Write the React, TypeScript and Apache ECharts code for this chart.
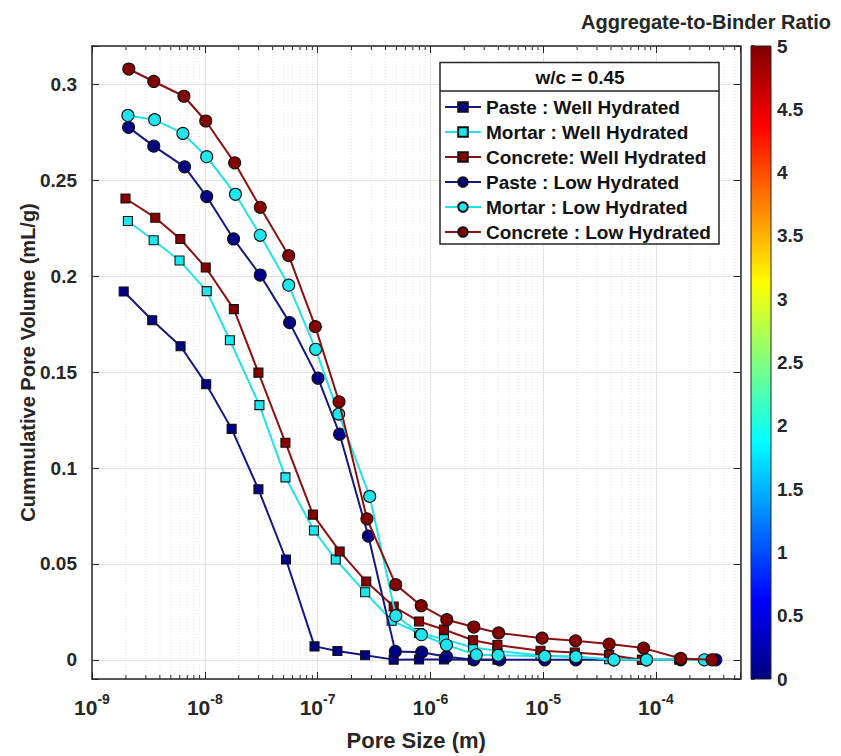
import React, { useEffect, useRef } from 'react';
import * as echarts from 'echarts';

// ---------- data ----------
const seriesNames = [
  'Paste : Well Hydrated',
  'Mortar : Well Hydrated',
  'Concrete: Well Hydrated',
  'Paste : Low Hydrated',
  'Mortar : Low Hydrated',
  'Concrete : Low Hydrated',
];

// pore size (m) / cumulative pore volume (mL/g)
const pasteWellPore = [1.91e-9, 3.42e-9, 6.10e-9, 1.03e-8, 1.73e-8, 2.99e-8, 5.25e-8, 9.40e-8, 1.50e-7, 2.64e-7, 4.73e-7, 7.94e-7, 1.32e-6, 2.39e-6, 3.93e-6];
const pasteWellVol = [0.192, 0.177, 0.1635, 0.1437, 0.1204, 0.0889, 0.0523, 0.0070, 0.0046, 0.0024, 0.0001, 0.0002, 0.0002, 0.0001, 0.0001];

const mortarWellPore = [2.08e-9, 3.52e-9, 5.97e-9, 1.04e-8, 1.67e-8, 3.05e-8, 5.19e-8, 9.29e-8, 1.45e-7, 2.64e-7, 4.54e-7, 7.94e-7, 1.32e-6, 2.39e-6, 3.93e-6, 9.48e-6, 1.91e-5, 3.85e-5, 7.52e-5];
const mortarWellVol = [0.2288, 0.2187, 0.2082, 0.1922, 0.1666, 0.1328, 0.0951, 0.0674, 0.0523, 0.0352, 0.0204, 0.0140, 0.0108, 0.0064, 0.0047, 0.0022, 0.0016, 0.0003, 0.0];

const concreteWellPore = [1.98e-9, 3.64e-9, 6.07e-9, 1.02e-8, 1.81e-8, 2.99e-8, 5.19e-8, 9.10e-8, 1.57e-7, 2.70e-7, 4.73e-7, 7.94e-7, 1.32e-6, 2.39e-6, 3.93e-6, 9.48e-6, 1.91e-5, 3.85e-5, 7.52e-5, 1.61e-4];
const concreteWellVol = [0.2405, 0.2305, 0.2194, 0.2045, 0.1828, 0.1497, 0.1132, 0.0757, 0.0565, 0.0408, 0.0278, 0.0200, 0.0158, 0.0102, 0.0077, 0.0047, 0.0038, 0.0025, 0.0, 0.0];

const pasteLowPore = [2.11e-9, 3.53e-9, 6.62e-9, 1.04e-8, 1.80e-8, 3.10e-8, 5.65e-8, 1.01e-7, 1.57e-7, 2.82e-7, 4.89e-7, 8.39e-7, 1.39e-6, 2.43e-6, 4.13e-6, 1.035e-5, 1.95e-5, 4.24e-5, 8.26e-5, 1.66e-4, 3.4e-4];
const pasteLowVol = [0.2776, 0.2678, 0.2570, 0.2415, 0.2194, 0.2006, 0.1758, 0.1468, 0.1176, 0.0645, 0.0044, 0.0040, 0.0016, 0.0, 0.0, 0.0, 0.0, 0.0, 0.0, 0.0, 0.0];

const mortarLowPore = [2.08e-9, 3.59e-9, 6.40e-9, 1.04e-8, 1.87e-8, 3.10e-8, 5.55e-8, 9.62e-8, 1.54e-7, 2.90e-7, 4.94e-7, 8.34e-7, 1.39e-6, 2.56e-6, 3.99e-6, 1.035e-5, 1.95e-5, 4.24e-5, 8.26e-5, 2.69e-4];
const mortarLowVol = [0.2838, 0.2816, 0.2744, 0.2623, 0.2427, 0.2213, 0.1953, 0.1619, 0.1281, 0.0852, 0.0230, 0.0131, 0.0077, 0.0026, 0.0024, 0.0018, 0.0016, 0.0, 0.0, 0.0];

const concreteLowPore = [2.12e-9, 3.53e-9, 6.53e-9, 1.02e-8, 1.84e-8, 3.10e-8, 5.55e-8, 9.55e-8, 1.55e-7, 2.74e-7, 4.93e-7, 8.30e-7, 1.40e-6, 2.43e-6, 4.03e-6, 9.8e-6, 1.94e-5, 3.85e-5, 7.78e-5, 1.66e-4, 3.14e-4];
const concreteLowVol = [0.308, 0.3015, 0.2938, 0.2809, 0.2591, 0.2359, 0.2107, 0.1737, 0.1345, 0.0735, 0.0392, 0.0282, 0.0209, 0.0171, 0.0140, 0.0113, 0.0099, 0.0082, 0.0061, 0.0007, 0.0];

const poreArrays = [pasteWellPore, mortarWellPore, concreteWellPore, pasteLowPore, mortarLowPore, concreteLowPore];
const volArrays = [pasteWellVol, mortarWellVol, concreteWellVol, pasteLowVol, mortarLowVol, concreteLowVol];

// axis ranges
const X_MIN_EXP = -9;
const X_MAX_EXP = -3.25;
const Y_MIN = -0.01;
const Y_MAX = 0.32;
const Y_STEP = 0.05;
const CB_MIN = 0;
const CB_MAX = 5;
const CB_STEP = 0.5;

// ---------- styles ----------
const FONT = "'Liberation Sans', Arial, Helvetica, sans-serif";
const AX = '#262626';
const lineColors = ['#16167f', '#22e2e6', '#8c1010', '#16167f', '#22e2e6', '#8c1010'];
const fillColors = ['#000085', '#1ee6ef', '#850000', '#000085', '#1ee6ef', '#850000'];
const symbols = ['rect', 'rect', 'rect', 'circle', 'circle', 'circle'];
const symbolSizes = [9, 9, 9, 12, 12, 12];
const jetStops = [
  [0, '#000080'],
  [0.125, '#0000ff'],
  [0.375, '#00ffff'],
  [0.625, '#ffff00'],
  [0.875, '#ff0000'],
  [1, '#800000'],
];

function minorExponents(): number[] {
  const out: number[] = [];
  for (let n = Math.ceil(X_MIN_EXP); n < X_MAX_EXP; n++) {
    for (let k = 2; k <= 9; k++) {
      const e = n + Math.log10(k);
      if (e < X_MAX_EXP) out.push(e);
    }
  }
  return out;
}

export default function App() {
  const ref = useRef<HTMLDivElement>(null);
  useEffect(() => {
    if (!ref.current) return;
    const chart = echarts.init(ref.current, undefined, { renderer: 'svg' });

    const lineSeries = seriesNames.map((name, i) => ({
      type: 'line',
      name,
      xAxisIndex: 0,
      yAxisIndex: 0,
      data: poreArrays[i].map((p, j) => [Math.log10(p), volArrays[i][j]]),
      symbol: symbols[i],
      symbolSize: symbolSizes[i],
      showSymbol: true,
      lineStyle: { color: lineColors[i], width: 2 },
      itemStyle: { color: fillColors[i], borderColor: '#111', borderWidth: 1.1 },
      z: 3 + i,
    }));

    const minorSeries = {
      type: 'custom',
      xAxisIndex: 0,
      yAxisIndex: 0,
      silent: true,
      z: 1,
      data: minorExponents().map((e) => [e, 0]),
      renderItem: (params: any, api: any) => {
        const x = api.coord([api.value(0), 0])[0];
        const cs = params.coordSys;
        const top = cs.y;
        const bottom = cs.y + cs.height;
        return {
          type: 'group',
          children: [
            { type: 'line', shape: { x1: x, y1: top, x2: x, y2: bottom }, style: { stroke: '#e2e2e2', lineWidth: 1, lineDash: [1, 2] } },
            { type: 'line', shape: { x1: x, y1: bottom, x2: x, y2: bottom - 4 }, style: { stroke: AX, lineWidth: 1 } },
            { type: 'line', shape: { x1: x, y1: top, x2: x, y2: top + 4 }, style: { stroke: AX, lineWidth: 1 } },
          ],
        };
      },
    };

    const colorbarSeries = {
      type: 'custom',
      xAxisIndex: 2,
      yAxisIndex: 2,
      silent: true,
      data: [[0, 0]],
      renderItem: (_params: any, api: any) => {
        const p0 = api.coord([0, CB_MAX]);
        const p1 = api.coord([1, CB_MIN]);
        return {
          type: 'rect',
          shape: { x: p0[0], y: p0[1], width: p1[0] - p0[0], height: p1[1] - p0[1] },
          style: {
            fill: new echarts.graphic.LinearGradient(0, 1, 0, 0, jetStops.map(([o, c]) => ({ offset: o as number, color: c as string }))),
            stroke: AX,
            lineWidth: 1,
          },
        };
      },
    };

    const isMultiple = (v: number, step: number) => Math.abs(v / step - Math.round(v / step)) < 1e-6;

    const option: any = {
      animation: false,
      backgroundColor: '#ffffff',
      textStyle: { fontFamily: FONT },
      title: {
        text: 'Aggregate-to-Binder Ratio',
        right: 5,
        top: 7,
        textStyle: { fontFamily: FONT, fontWeight: 'bold', fontSize: 20, color: AX },
      },
      grid: [
        { left: 92, right: 100.5, top: 46, bottom: 77 },
        { left: 751, right: 70, top: 46, bottom: 77 },
      ],
      xAxis: [
        {
          type: 'value',
          gridIndex: 0,
          min: X_MIN_EXP,
          max: X_MAX_EXP,
          interval: 1,
          name: 'Pore Size (m)',
          nameLocation: 'middle',
          nameGap: 50,
          nameMoveOverlap: false,
          nameTextStyle: { fontFamily: FONT, fontWeight: 'bold', fontSize: 22, color: AX },
          axisLine: { show: true, onZero: false, lineStyle: { color: AX, width: 1.5 } },
          axisTick: { show: true, inside: true, length: 7, lineStyle: { color: AX, width: 1 } },
          axisLabel: {
            margin: 13,
            formatter: (v: number) => (isMultiple(v, 1) ? `{b|10}{s|${Math.round(v)}}` : ''),
            rich: {
              b: { fontFamily: FONT, fontWeight: 'bold', fontSize: 21, lineHeight: 20, padding: [10, 0, 0, 0], color: AX },
              s: { fontFamily: FONT, fontWeight: 'bold', fontSize: 14, lineHeight: 12, verticalAlign: 'top', color: AX },
            },
          },
          splitLine: { show: true, lineStyle: { color: '#e4e4e4', width: 1 } },
        },
        {
          type: 'value',
          gridIndex: 0,
          position: 'top',
          min: X_MIN_EXP,
          max: X_MAX_EXP,
          interval: 1,
          axisLine: { show: true, onZero: false, lineStyle: { color: AX, width: 1.5 } },
          axisTick: { show: true, inside: true, length: 7, lineStyle: { color: AX, width: 1 } },
          axisLabel: { show: false },
          splitLine: { show: false },
        },
        { type: 'value', gridIndex: 1, min: 0, max: 1, show: false },
      ],
      yAxis: [
        {
          type: 'value',
          gridIndex: 0,
          min: Y_MIN,
          max: Y_MAX,
          minInterval: Y_STEP,
          maxInterval: Y_STEP,
          name: 'Cummulative Pore Volume (mL/g)',
          nameLocation: 'middle',
          nameGap: 54,
          nameMoveOverlap: false,
          nameTextStyle: { fontFamily: FONT, fontWeight: 'bold', fontSize: 20, color: AX },
          axisLine: { show: true, onZero: false, lineStyle: { color: AX, width: 1.5 } },
          axisTick: { show: true, inside: true, length: 7, lineStyle: { color: AX, width: 1 } },
          axisLabel: {
            margin: 15,
            fontFamily: FONT,
            fontWeight: 'bold',
            fontSize: 19,
            color: AX,
            formatter: (v: number) => (isMultiple(v, Y_STEP) ? String(parseFloat(v.toFixed(2))) : ''),
          },
          splitLine: { show: true, lineStyle: { color: '#e4e4e4', width: 1 } },
        },
        {
          type: 'value',
          gridIndex: 0,
          position: 'right',
          min: Y_MIN,
          max: Y_MAX,
          minInterval: Y_STEP,
          maxInterval: Y_STEP,
          axisLine: { show: true, onZero: false, lineStyle: { color: AX, width: 1.5 } },
          axisTick: { show: true, inside: true, length: 7, lineStyle: { color: AX, width: 1 } },
          axisLabel: { show: false },
          splitLine: { show: false },
        },
        {
          type: 'value',
          gridIndex: 1,
          position: 'right',
          min: CB_MIN,
          max: CB_MAX,
          interval: CB_STEP,
          axisLine: { show: false },
          axisTick: { show: true, inside: false, length: 4, lineStyle: { color: AX, width: 1.5 } },
          axisLabel: {
            margin: 6,
            fontFamily: FONT,
            fontWeight: 'bold',
            fontSize: 19,
            color: AX,
            formatter: (v: number) => String(v),
          },
          splitLine: { show: false },
        },
      ],
      legend: {
        data: seriesNames,
        orient: 'vertical',
        left: 444,
        top: 97,
        padding: 0,
        itemWidth: 36,
        itemHeight: 12,
        itemGap: 5,
        selectedMode: false,
        z: 8,
        textStyle: { fontFamily: FONT, fontWeight: 'bold', fontSize: 19, lineHeight: 20, color: '#111' },
      },
      graphic: [
        {
          type: 'rect',
          z: 6,
          shape: { x: 440, y: 62.5, width: 279, height: 181.5 },
          style: { fill: '#ffffff', stroke: AX, lineWidth: 1.5 },
        },
        {
          type: 'line',
          z: 7,
          shape: { x1: 440, y1: 91, x2: 719, y2: 91 },
          style: { stroke: AX, lineWidth: 1.5 },
        },
        {
          type: 'text',
          z: 7,
          x: 580,
          y: 77.5,
          style: {
            text: 'w/c = 0.45',
            fontFamily: FONT,
            fontWeight: 'bold',
            fontSize: 19,
            fill: '#111',
            textAlign: 'center',
            textVerticalAlign: 'middle',
          },
        },
      ],
      series: [minorSeries, ...lineSeries, colorbarSeries],
    };

    chart.setOption(option);
    return () => chart.dispose();
  }, []);

  return <div ref={ref} style={{ position: 'absolute', left: 0, top: 0, width: 841, height: 756, background: '#fff' }} />;
}
